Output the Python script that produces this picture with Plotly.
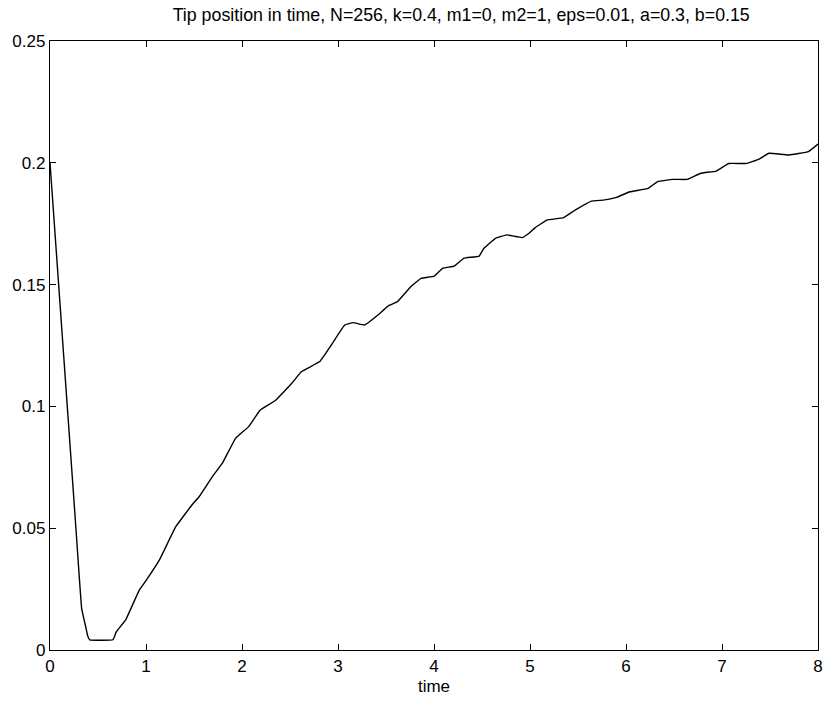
import plotly.graph_objects as go

title_text = "Tip position in time, N=256, k=0.4, m1=0, m2=1, eps=0.01, a=0.3, b=0.15"
x_label = "time"

time = [0, 0.09, 0.18, 0.27, 0.33, 0.375, 0.395, 0.414, 0.655, 0.69, 0.79, 0.93, 1.0,
        1.14, 1.31, 1.48, 1.553, 1.69, 1.794, 1.933, 2.07, 2.19, 2.347, 2.519, 2.62,
        2.81, 2.93, 3.07, 3.157, 3.278, 3.416, 3.52, 3.62, 3.76, 3.865, 4.003, 4.09,
        4.21, 4.31, 4.47, 4.52, 4.64, 4.76, 4.917, 4.986, 5.055, 5.176, 5.35, 5.47,
        5.64, 5.763, 5.9, 6.04, 6.23, 6.33, 6.49, 6.64, 6.78, 6.94, 7.07, 7.25, 7.38,
        7.49, 7.69, 7.9, 8.0]
tip = [0.2, 0.15, 0.1, 0.05, 0.017, 0.009, 0.0055, 0.0042, 0.0042, 0.0074, 0.0125,
       0.0246, 0.0285, 0.037, 0.0506, 0.0596, 0.0629, 0.0711, 0.0766, 0.0869, 0.0917,
       0.0985, 0.1024, 0.1095, 0.1143, 0.1184, 0.1252, 0.1334, 0.1344, 0.1334, 0.1375,
       0.1412, 0.143, 0.1492, 0.1526, 0.1535, 0.1567, 0.1576, 0.1608, 0.1617, 0.1649,
       0.169, 0.1704, 0.1693, 0.171, 0.1734, 0.1765, 0.1775, 0.1806, 0.1843, 0.1847,
       0.1858, 0.1881, 0.1895, 0.1923, 0.1932, 0.1932, 0.1957, 0.1966, 0.1997, 0.1997,
       0.2014, 0.2039, 0.2032, 0.2046, 0.2077]

x_ticks = [0, 1, 2, 3, 4, 5, 6, 7, 8]
y_ticks = [0, 0.05, 0.1, 0.15, 0.2, 0.25]
y_tick_labels = ["0", "0.05", "0.1", "0.15", "0.2", "0.25"]

font_family = "Liberation Sans, Arial, Helvetica, sans-serif"

fig = go.Figure()
fig.add_trace(go.Scatter(x=time, y=tip, mode="lines",
                         line=dict(color="black", width=1.4, shape="spline", smoothing=0.25),
                         showlegend=False, hoverinfo="skip"))

axis_common = dict(showgrid=False, zeroline=False, showline=True, linecolor="black",
                   linewidth=1.3, mirror="ticks", ticks="inside", ticklen=6,
                   tickcolor="black", tickwidth=1,
                   tickfont=dict(family=font_family, size=17, color="black"))

fig.update_layout(
    width=834, height=703,
    margin=dict(l=50, r=11, t=41, b=53),
    paper_bgcolor="white", plot_bgcolor="white",
    title=dict(text=title_text, x=0.553, xanchor="center", y=0.979, yanchor="middle",
               font=dict(family=font_family, size=17.8, color="black")),
    xaxis=dict(range=[0, 8], tickvals=x_ticks, ticktext=[str(v) for v in x_ticks],
               title=dict(text=x_label, font=dict(family=font_family, size=17, color="black"),
                          standoff=5),
               **axis_common),
    yaxis=dict(range=[0, 0.25], tickvals=y_ticks, ticktext=y_tick_labels, **axis_common),
)

fig.write_html("out.html")
